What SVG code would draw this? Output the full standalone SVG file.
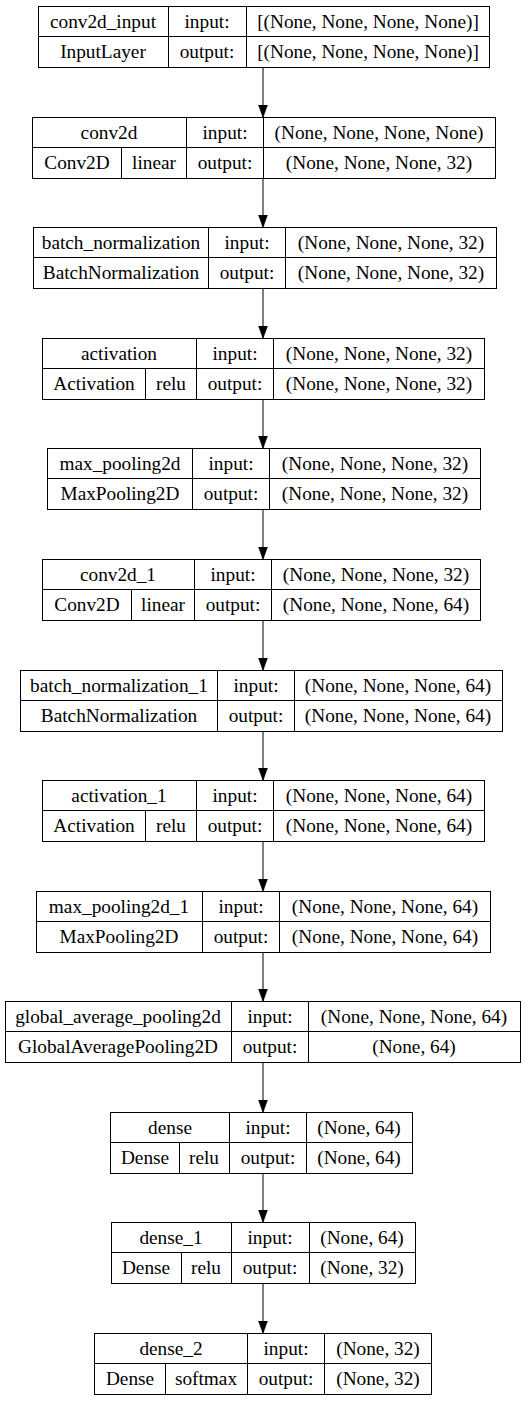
<svg xmlns="http://www.w3.org/2000/svg" width="527" height="1401" viewBox="0 0 527 1401">
<style>
.b{fill:#fff;stroke:#000;stroke-width:1}
.l{stroke:#000;stroke-width:1;fill:none}
text{font-family:"Liberation Serif","Times New Roman",serif;font-size:19.3px;fill:#000;text-anchor:middle}
.e{stroke:#000;stroke-width:1;fill:none;marker-end:url(#ah)}
</style>
<defs>
<marker id="ah" markerUnits="userSpaceOnUse" markerWidth="14" markerHeight="10" refX="13" refY="4.7" orient="auto" viewBox="0 0 14 10">
<path d="M0,0 L13,4.7 L0,9.4 z" fill="#000" stroke="#000" stroke-width="0.5"/>
</marker>
</defs>
<rect width="527" height="1401" fill="#fff"/>
<g id="connectors">
<line class="e" x1="263" y1="67.5" x2="263" y2="117.5"/>
<line class="e" x1="263" y1="178.5" x2="263" y2="227.5"/>
<line class="e" x1="263" y1="288.5" x2="263" y2="338.5"/>
<line class="e" x1="263" y1="399.5" x2="263" y2="448.5"/>
<line class="e" x1="263" y1="509.5" x2="263" y2="559.5"/>
<line class="e" x1="263" y1="620.5" x2="263" y2="670.5"/>
<line class="e" x1="263" y1="731.5" x2="263" y2="780.5"/>
<line class="e" x1="263" y1="841.5" x2="263" y2="891.5"/>
<line class="e" x1="263" y1="952.5" x2="263" y2="1001.5"/>
<line class="e" x1="263" y1="1062.5" x2="263" y2="1112.5"/>
<line class="e" x1="263" y1="1173.5" x2="263" y2="1222.5"/>
<line class="e" x1="263" y1="1283.5" x2="263" y2="1333.5"/>
</g>
<g id="conv2d_input">
<rect class="b" x="38.5" y="6.5" width="451" height="61"/>
<path class="l" d="M38.5,36.5H489.5M168.5,6.5V67.5M246.5,6.5V67.5"/>
<text x="103" y="27.5">conv2d_input</text><text x="207" y="27.5">input:</text><text x="368" y="27.5">[(None, None, None, None)]</text>
<text x="103" y="57.5">InputLayer</text><text x="207" y="57.5">output:</text><text x="368" y="57.5">[(None, None, None, None)]</text>
</g>
<g id="conv2d">
<rect class="b" x="32.5" y="117.5" width="463" height="61"/>
<path class="l" d="M32.5,147.5H495.5M186.5,117.5V178.5M263.5,117.5V178.5M121.5,147.5V178.5"/>
<text x="109" y="138.5">conv2d</text><text x="225" y="138.5">input:</text><text x="379" y="138.5">(None, None, None, None)</text>
<text x="77" y="168.5">Conv2D</text><text x="154" y="168.5">linear</text><text x="225" y="168.5">output:</text><text x="379" y="168.5">(None, None, None, 32)</text>
</g>
<g id="batch_normalization">
<rect class="b" x="33.5" y="227.5" width="463" height="61"/>
<path class="l" d="M33.5,257.5H496.5M208.5,227.5V288.5M285.5,227.5V288.5"/>
<text x="121" y="248.5">batch_normalization</text><text x="247" y="248.5">input:</text><text x="391" y="248.5">(None, None, None, 32)</text>
<text x="121" y="278.5">BatchNormalization</text><text x="247" y="278.5">output:</text><text x="391" y="278.5">(None, None, None, 32)</text>
</g>
<g id="activation">
<rect class="b" x="42.5" y="338.5" width="442" height="61"/>
<path class="l" d="M42.5,368.5H484.5M196.5,338.5V399.5M273.5,338.5V399.5M145.5,368.5V399.5"/>
<text x="119" y="359.5">activation</text><text x="235" y="359.5">input:</text><text x="379" y="359.5">(None, None, None, 32)</text>
<text x="94" y="389.5">Activation</text><text x="171" y="389.5">relu</text><text x="235" y="389.5">output:</text><text x="379" y="389.5">(None, None, None, 32)</text>
</g>
<g id="max_pooling2d">
<rect class="b" x="47.5" y="448.5" width="433" height="61"/>
<path class="l" d="M47.5,478.5H480.5M192.5,448.5V509.5M269.5,448.5V509.5"/>
<text x="120" y="469.5">max_pooling2d</text><text x="231" y="469.5">input:</text><text x="375" y="469.5">(None, None, None, 32)</text>
<text x="120" y="499.5">MaxPooling2D</text><text x="231" y="499.5">output:</text><text x="375" y="499.5">(None, None, None, 32)</text>
</g>
<g id="conv2d_1">
<rect class="b" x="42.5" y="559.5" width="438" height="61"/>
<path class="l" d="M42.5,589.5H480.5M194.5,559.5V620.5M271.5,559.5V620.5M131.5,589.5V620.5"/>
<text x="118" y="580.5">conv2d_1</text><text x="233" y="580.5">input:</text><text x="376" y="580.5">(None, None, None, 32)</text>
<text x="87" y="610.5">Conv2D</text><text x="163" y="610.5">linear</text><text x="233" y="610.5">output:</text><text x="376" y="610.5">(None, None, None, 64)</text>
</g>
<g id="batch_normalization_1">
<rect class="b" x="20.5" y="670.5" width="482" height="61"/>
<path class="l" d="M20.5,700.5H502.5M217.5,670.5V731.5M294.5,670.5V731.5"/>
<text x="119" y="691.5">batch_normalization_1</text><text x="256" y="691.5">input:</text><text x="398" y="691.5">(None, None, None, 64)</text>
<text x="119" y="721.5">BatchNormalization</text><text x="256" y="721.5">output:</text><text x="398" y="721.5">(None, None, None, 64)</text>
</g>
<g id="activation_1">
<rect class="b" x="42.5" y="780.5" width="442" height="61"/>
<path class="l" d="M42.5,810.5H484.5M196.5,780.5V841.5M273.5,780.5V841.5M145.5,810.5V841.5"/>
<text x="119" y="801.5">activation_1</text><text x="235" y="801.5">input:</text><text x="379" y="801.5">(None, None, None, 64)</text>
<text x="94" y="831.5">Activation</text><text x="171" y="831.5">relu</text><text x="235" y="831.5">output:</text><text x="379" y="831.5">(None, None, None, 64)</text>
</g>
<g id="max_pooling2d_1">
<rect class="b" x="36.5" y="891.5" width="454" height="61"/>
<path class="l" d="M36.5,921.5H490.5M202.5,891.5V952.5M279.5,891.5V952.5"/>
<text x="119" y="912.5">max_pooling2d_1</text><text x="241" y="912.5">input:</text><text x="385" y="912.5">(None, None, None, 64)</text>
<text x="119" y="942.5">MaxPooling2D</text><text x="241" y="942.5">output:</text><text x="385" y="942.5">(None, None, None, 64)</text>
</g>
<g id="global_average_pooling2d">
<rect class="b" x="5.5" y="1001.5" width="515" height="61"/>
<path class="l" d="M5.5,1031.5H520.5M231.5,1001.5V1062.5M308.5,1001.5V1062.5"/>
<text x="118" y="1022.5">global_average_pooling2d</text><text x="270" y="1022.5">input:</text><text x="414" y="1022.5">(None, None, None, 64)</text>
<text x="118" y="1052.5">GlobalAveragePooling2D</text><text x="270" y="1052.5">output:</text><text x="414" y="1052.5">(None, 64)</text>
</g>
<g id="dense">
<rect class="b" x="110.5" y="1112.5" width="302" height="61"/>
<path class="l" d="M110.5,1142.5H412.5M229.5,1112.5V1173.5M306.5,1112.5V1173.5M179.5,1142.5V1173.5"/>
<text x="170" y="1133.5">dense</text><text x="268" y="1133.5">input:</text><text x="359" y="1133.5">(None, 64)</text>
<text x="145" y="1163.5">Dense</text><text x="204" y="1163.5">relu</text><text x="268" y="1163.5">output:</text><text x="359" y="1163.5">(None, 64)</text>
</g>
<g id="dense_1">
<rect class="b" x="111.5" y="1222.5" width="304" height="61"/>
<path class="l" d="M111.5,1252.5H415.5M231.5,1222.5V1283.5M309.5,1222.5V1283.5M181.5,1252.5V1283.5"/>
<text x="171" y="1243.5">dense_1</text><text x="270" y="1243.5">input:</text><text x="362" y="1243.5">(None, 64)</text>
<text x="146" y="1273.5">Dense</text><text x="206" y="1273.5">relu</text><text x="270" y="1273.5">output:</text><text x="362" y="1273.5">(None, 32)</text>
</g>
<g id="dense_2">
<rect class="b" x="94.5" y="1333.5" width="337" height="61"/>
<path class="l" d="M94.5,1363.5H431.5M247.5,1333.5V1394.5M324.5,1333.5V1394.5M165.5,1363.5V1394.5"/>
<text x="171" y="1354.5">dense_2</text><text x="286" y="1354.5">input:</text><text x="378" y="1354.5">(None, 32)</text>
<text x="130" y="1384.5">Dense</text><text x="206" y="1384.5">softmax</text><text x="286" y="1384.5">output:</text><text x="378" y="1384.5">(None, 32)</text>
</g>
</svg>
